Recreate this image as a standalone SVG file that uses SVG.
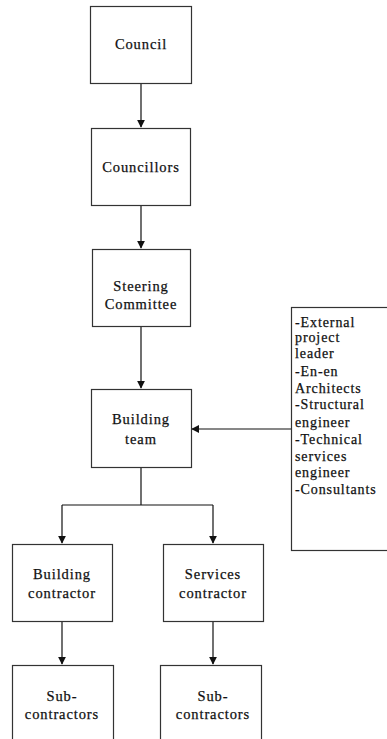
<svg xmlns="http://www.w3.org/2000/svg" width="387" height="739" viewBox="0 0 387 739">
  <defs>
    <marker id="arrow" viewBox="0 0 10 10" refX="9" refY="5" markerWidth="8" markerHeight="8" markerUnits="userSpaceOnUse" orient="auto">
      <path d="M0,0 L10,5 L0,10 z" fill="#111"/>
    </marker>
  </defs>
  <style>
    .box { fill: #fff; stroke: #333; stroke-width: 1.2; }
    .lbl, .list { font-family: "Liberation Serif", "DejaVu Serif", serif; font-size: 14.5px; letter-spacing: 0.9px; fill: #111; stroke: #111; stroke-width: 0.25px; }
    .list { font-size: 14px; }
    .lbl { text-anchor: middle; }
    .conn { fill: none; stroke: #111; stroke-width: 1.2; }
  </style>
  <rect width="387" height="739" fill="#fff"/>

  <g id="connectors">
    <path class="conn" d="M141,83 V127" stroke-width="2" marker-end="url(#arrow)"/>
    <path class="conn" d="M141,205 V248" marker-end="url(#arrow)"/>
    <path class="conn" d="M141,326 V388" marker-end="url(#arrow)"/>
    <path class="conn" d="M291,429 H192" marker-end="url(#arrow)"/>
    <path class="conn" d="M141,467 V505"/>
    <path class="conn" d="M62,505 H213"/>
    <path class="conn" d="M62,505 V543" marker-end="url(#arrow)"/>
    <path class="conn" d="M213,505 V543" marker-end="url(#arrow)"/>
    <path class="conn" d="M62,622 V664" marker-end="url(#arrow)"/>
    <path class="conn" d="M213,622 V664" marker-end="url(#arrow)"/>
  </g>

  <g id="council">
    <rect class="box" x="90.5" y="6.5" width="101" height="77"/>
    <text class="lbl" x="141" y="49">Council</text>
  </g>

  <g id="councillors">
    <rect class="box" x="91.5" y="128.5" width="99" height="77"/>
    <text class="lbl" x="141" y="172">Councillors</text>
  </g>

  <g id="steering-committee">
    <rect class="box" x="92.5" y="249.5" width="98" height="77"/>
    <text class="lbl" x="141" y="291">Steering</text>
    <text class="lbl" x="141" y="309">Committee</text>
  </g>

  <g id="building-team">
    <rect class="box" x="91.5" y="389.5" width="100" height="78"/>
    <text class="lbl" x="141" y="424">Building</text>
    <text class="lbl" x="141" y="444">team</text>
  </g>

  <g id="advisors">
    <rect class="box" x="291.5" y="307.5" width="97" height="243"/>
    <text class="list" x="295" y="327">-External</text>
    <text class="list" x="295" y="342">project</text>
    <text class="list" x="295" y="358">leader</text>
    <text class="list" x="295" y="376">-En-en</text>
    <text class="list" x="295" y="393">Architects</text>
    <text class="list" x="295" y="409">-Structural</text>
    <text class="list" x="295" y="427">engineer</text>
    <text class="list" x="295" y="444">-Technical</text>
    <text class="list" x="295" y="461">services</text>
    <text class="list" x="295" y="477">engineer</text>
    <text class="list" x="295" y="494">-Consultants</text>
  </g>

  <g id="building-contractor">
    <rect class="box" x="12.5" y="544.5" width="100" height="77"/>
    <text class="lbl" x="62" y="579">Building</text>
    <text class="lbl" x="62" y="598">contractor</text>
  </g>

  <g id="services-contractor">
    <rect class="box" x="163.5" y="544.5" width="100" height="77"/>
    <text class="lbl" x="213" y="579">Services</text>
    <text class="lbl" x="213" y="598">contractor</text>
  </g>

  <g id="sub-contractors-building">
    <rect class="box" x="12.5" y="665.5" width="101" height="90"/>
    <text class="lbl" x="62" y="701">Sub-</text>
    <text class="lbl" x="62" y="719">contractors</text>
  </g>

  <g id="sub-contractors-services">
    <rect class="box" x="160.5" y="665.5" width="101" height="90" stroke-width="1.6"/>
    <text class="lbl" x="213" y="701">Sub-</text>
    <text class="lbl" x="213" y="719">contractors</text>
  </g>
</svg>
